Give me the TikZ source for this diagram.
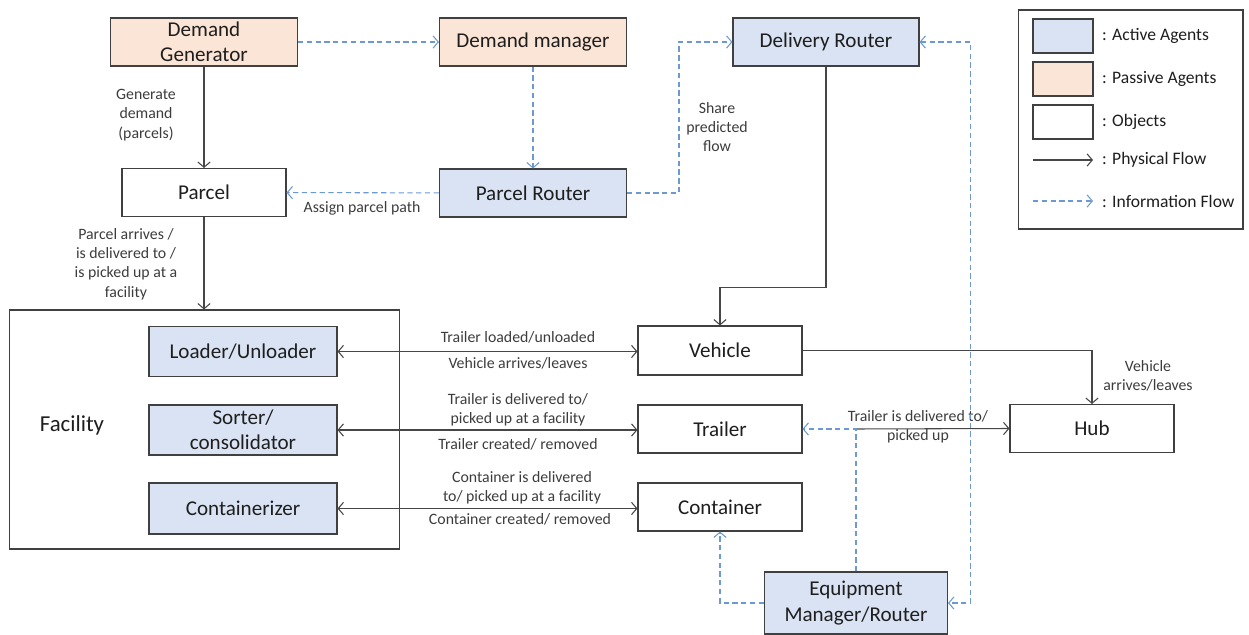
\documentclass[tikz,border=0pt]{standalone}
\usepackage{fontspec}
\setmainfont{Carlito}
\usetikzlibrary{arrows.meta,calc}
\definecolor{agentfill}{RGB}{218,227,243}
\definecolor{passivefill}{RGB}{251,229,214}
\definecolor{boxgray}{RGB}{64,64,64}
\definecolor{flowgray}{RGB}{70,70,70}
\definecolor{infoblue}{RGB}{108,153,210}
\definecolor{textdark}{RGB}{30,30,30}
\definecolor{labelgray}{RGB}{60,60,60}

\begin{document}
\begin{tikzpicture}[x=0.02cm, y=-0.02cm, >={Straight Barb[length=3pt,width=7pt]}]
    \tikzset{box/.style={rectangle, draw=boxgray, line width=0.6pt, minimum height=0.96cm,
      align=center, inner sep=2pt, text=textdark, font=\fontsize{12}{14.5}\selectfont},
      agent/.style={box, fill=agentfill, minimum width=3.74cm},
      passive/.style={box, fill=passivefill, minimum width=3.74cm},
      objbox/.style={box, fill=white, minimum width=3.28cm},
      phys/.style={draw=flowgray, line width=0.6pt, ->},
      info/.style={draw=infoblue, line width=0.6pt, dash pattern=on 3pt off 2pt, ->},
      lbl/.style={font=\fontsize{9}{11}\selectfont, text=labelgray, align=center},
      legtext/.style={anchor=west, font=\fontsize{10}{12}\selectfont, text=textdark}}
    \useasboundingbox (0,0) rectangle (1249,635);

    % Demand side
    \node[passive] (dgen) at (204,42) {Demand\\Generator};
    \node[passive] (dman) at (533,42) {Demand manager};
    \node[agent, minimum width=3.72cm] (drouter) at (826,42) {Delivery Router};
    \node[objbox] (parcel) at (204,192.5) {Parcel};
    \node[agent] (prouter) at (533,193) {Parcel Router};

    % Facility and its agents
    \node[draw=boxgray, line width=0.6pt, minimum width=7.82cm, minimum height=4.78cm] (fac) at (204.5,429.5) {};
    \node[font=\fontsize{13}{15}\selectfont, text=textdark] (faclabel) at (72,425) {Facility};
    \node[agent, minimum width=3.76cm, minimum height=1cm] (loader) at (243,351.5) {Loader/Unloader};
    \node[agent, minimum width=3.76cm, minimum height=1cm] (sorter) at (243,430) {Sorter/\\consolidator};
    \node[agent, minimum width=3.76cm, minimum height=1.02cm] (contz) at (243,508.5) {Containerizer};

    % Equipment objects
    \node[objbox, minimum height=0.98cm] (vehicle) at (720,350.5) {Vehicle};
    \node[objbox] (trailer) at (720,429) {Trailer};
    \node[objbox] (container) at (720,507) {Container};
    \node[objbox] (hub) at (1092,428.5) {Hub};
    \node[agent, minimum width=3.66cm, minimum height=1.24cm] (equip) at (856,603) {Equipment\\Manager/Router};

    % Physical flows
    \draw[phys] (dgen) -- (parcel);
    \node[lbl] (genlbl) at (146,115) {Generate\\demand\\(parcels)};
    \draw[phys] (parcel.south) -- (parcel.south |- fac.north);
    \node[lbl] (arrlbl) at (126,264) {Parcel arrives /\\is delivered to /\\is picked up at a\\facility};
    \draw[phys] (drouter.south) -- ++(0,221) -| (vehicle.north);
    \draw[phys, <->] (loader.east) -- (loader.east -| vehicle.west);
    \node[lbl] (ldlbl) at (518,337) {Trailer loaded/unloaded};
    \node[lbl] (valbl) at (518,363) {Vehicle arrives/leaves};
    \draw[phys, <->] (sorter.east) -- (sorter.east -| trailer.west);
    \node[lbl] (tdlbl) at (518,410) {Trailer is delivered to/\\picked up at a facility};
    \node[lbl] (tclbl) at (518,444) {Trailer created/ removed};
    \draw[phys, <->] (contz.east) -- (contz.east -| container.west);
    \node[lbl] (cdlbl) at (522,488) {Container is delivered\\to/ picked up at a facility};
    \node[lbl] (cclbl) at (520,519) {Container created/ removed};
    \draw[phys] (vehicle.east) -| (hub.north);
    \node[lbl] (vhlbl) at (1148,376) {Vehicle\\arrives/leaves};
    \coordinate (tj) at (equip.north |- trailer.east);
    \draw[phys] (tj) -- (hub.west);
    \node[lbl] (thlbl) at (918,427) {Trailer is delivered to/\\picked up};

    % Information flows
    \draw[info] (dgen) -- (dman);
    \draw[info] (dman) -- (prouter);
    \draw[info] (prouter) -- (parcel);
    \node[lbl] (pathlbl) at (362,208) {Assign parcel path};
    \draw[info] (prouter.east) -- ++(52,0) |- (drouter.west);
    \node[lbl] (flowlbl) at (717,127) {Share\\predicted\\flow};
    \draw[info] (equip.north) -- (tj) -- (trailer.east);
    \draw[info] (equip.west) -| (container.south);
    \draw[info, <->] (drouter.east) -- ++(51,0) |- (equip.east);

    % Legend
    \node[draw=boxgray, line width=0.6pt, minimum width=4.5cm, minimum height=4.38cm] (legend) at (1130.5,119.5) {};
    \node[agent, minimum width=1.2cm, minimum height=0.68cm] (kact) at (1063,36) {};
    \node[passive, minimum width=1.2cm, minimum height=0.68cm] (kpas) at (1063,79) {};
    \node[objbox, minimum width=1.2cm, minimum height=0.68cm] (kobj) at (1063,122) {};
    \coordinate (kphysA) at (1033,160);
    \coordinate (kphysB) at (1093,160);
    \coordinate (kinfoA) at (1033,201);
    \coordinate (kinfoB) at (1093,201);
    \draw[phys] (kphysA) -- (kphysB);
    \draw[info] (kinfoA) -- (kinfoB);
    \node[legtext] at (1096,36) {: Active Agents};
    \node[legtext] at (1096,79) {: Passive Agents};
    \node[legtext] at (1096,122) {: Objects};
    \node[legtext] at (1096,160) {: Physical Flow};
    \node[legtext] at (1096,201) {: Information Flow};
\end{tikzpicture}
\end{document}
